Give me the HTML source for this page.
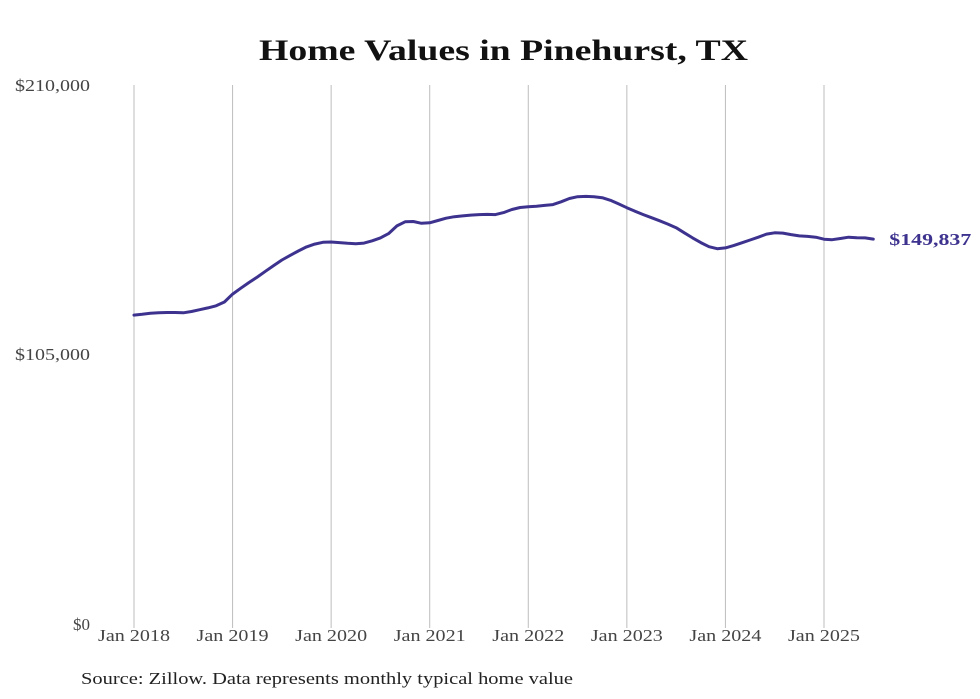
<!DOCTYPE html>
<html><head><meta charset="utf-8"><style>
html,body{margin:0;padding:0;background:#fff;}
svg{display:block;}
</style></head><body>
<svg id="chart" width="980" height="699" viewBox="0 0 980 699" xmlns="http://www.w3.org/2000/svg">
<text x="259" y="60" font-family="'Liberation Serif',serif" font-weight="bold" font-size="30" fill="#111" textLength="489" lengthAdjust="spacingAndGlyphs">Home Values in Pinehurst, TX</text>
<g id="grid"></g>
<g id="yaxis"></g>
<g id="xaxis"></g>
<g id="series"></g>
<text x="81" y="684" font-family="'Liberation Serif',serif" font-size="17" fill="#222" textLength="492" lengthAdjust="spacingAndGlyphs">Source: Zillow. Data represents monthly typical home value</text>
</svg>
<script>
const xTickLabels = ["Jan 2018","Jan 2019","Jan 2020","Jan 2021","Jan 2022","Jan 2023","Jan 2024","Jan 2025"];
const yTickValues = [0,105000,210000];
const yTickLabels = ["$0","$105,000","$210,000"];
const values = [
120200,120500,120900,121100,121200,121200,121100,121600,122300,123000,123800,125300,
128400,130700,132900,135000,137300,139500,141700,143500,145200,146800,147900,148600,
148700,148500,148200,148000,148300,149200,150300,152000,155000,156600,156700,156000,
156200,157100,158000,158600,158900,159200,159400,159500,159400,160200,161400,162200,
162500,162700,163000,163300,164400,165700,166400,166500,166400,166000,165000,163600,
162100,160700,159400,158200,157000,155700,154300,152300,150300,148500,146900,146100,
146400,147300,148400,149500,150600,151800,152300,152200,151600,151100,150900,150600,
149800,149600,150100,150600,150400,150300,149837];
const lastLabel = "$149,837";

const NS="http://www.w3.org/2000/svg";
const x0=134, pxPerMonth=98.57/12, yBase=623, yTop=85, yMax=210000;
function xScale(i){return x0+i*pxPerMonth;}
function yScale(v){return yBase-(v/yMax)*(yBase-yTop);}
function mk(tag,attrs,parent){const e=document.createElementNS(NS,tag);for(const k in attrs)e.setAttribute(k,attrs[k]);parent.appendChild(e);return e;}
const grid=document.getElementById('grid'),xa=document.getElementById('xaxis'),ya=document.getElementById('yaxis'),ser=document.getElementById('series');
xTickLabels.forEach((lab,i)=>{
  const x=xScale(i*12);
  const l=mk('line',{x1:x,x2:x,y1:yTop,y2:628,stroke:'#bdbdbd','stroke-width':1},grid);
  
  
  const t=mk('text',{x:x-36,y:641,'font-family':"'Liberation Serif',serif",'font-size':17,fill:'#444',textLength:72,lengthAdjust:'spacingAndGlyphs'},xa);
  t.textContent=lab;
  
  
});
yTickValues.forEach((v,i)=>{
  const isZero = v===0;
  const t=mk('text',{x:isZero?90:15,y:yScale(v)+(isZero?7:6),'text-anchor':isZero?'end':'start','font-family':"'Liberation Serif',serif",'font-size':17,fill:'#444'},ya);
  if(!isZero){t.setAttribute('textLength',75);t.setAttribute('lengthAdjust','spacingAndGlyphs');}
  t.textContent=yTickLabels[i];
  
  
});
const d=values.map((v,i)=>(i?'L':'M')+xScale(i).toFixed(1)+','+yScale(v).toFixed(1)).join(' ');
const p=mk('path',{d:d,fill:'none',stroke:'#3d338f','stroke-width':3,'stroke-linejoin':'round','stroke-linecap':'round'},ser);


const li=values.length-1;
const lt=mk('text',{x:xScale(li)+16,y:yScale(values[li])+6,'font-family':"'Liberation Serif',serif",'font-weight':'bold','font-size':17,fill:'#3d338f',textLength:82,lengthAdjust:'spacingAndGlyphs'},ser);
lt.textContent=lastLabel;


</script>
</body></html>
